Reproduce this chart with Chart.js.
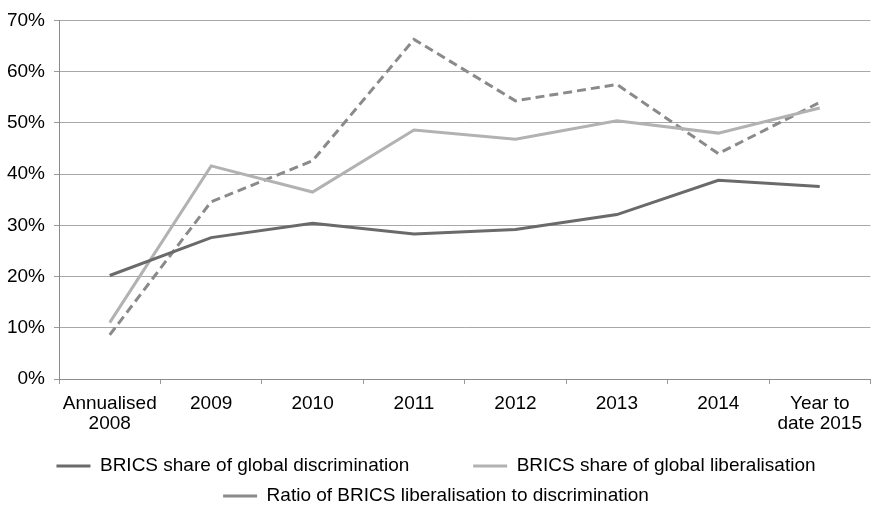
<!DOCTYPE html>
<html>
<head>
<meta charset="utf-8">
<script src="https://cdn.jsdelivr.net/npm/chart.js@4"></script>
<style>
  html, body { margin: 0; padding: 0; background: #fff; }
  #wrap { width: 872px; height: 507px; position: relative; }
</style>
</head>
<body>
<div id="wrap"><canvas id="bricsChart"></canvas></div>
<script>
// data
const categories = [
  ["Annualised", "2008"], "2009", "2010", "2011", "2012", "2013", "2014", ["Year to", "date 2015"]
];
const discrimination = [20.2, 27.6, 30.4, 28.3, 29.2, 32.1, 38.8, 37.6];
const liberalisation = [11.0, 41.6, 36.5, 48.6, 46.8, 50.4, 48.0, 52.9];
const ratio = [8.6, 34.6, 42.6, 66.3, 54.3, 57.5, 44.0, 54.0];
const yTicks = [0, 10, 20, 30, 40, 50, 60, 70];

const seriesNames = [
  "BRICS share of global discrimination",
  "BRICS share of global liberalisation",
  "Ratio of BRICS liberalisation to discrimination"
];

const fontFamily = "'Liberation Sans', Arial, sans-serif";
Chart.defaults.font.family = fontFamily;
Chart.defaults.color = "#000";

const ctx = document.getElementById("bricsChart").getContext("2d");
const bricsChart = new Chart(ctx, {
  type: "line",
  data: {
    labels: categories,
    datasets: [
      {
        label: seriesNames[0],
        data: discrimination,
        borderColor: "#6a6a6a",
        borderWidth: 3,
        pointRadius: 0,
        tension: 0
      },
      {
        label: seriesNames[1],
        data: liberalisation,
        borderColor: "#b2b2b2",
        borderWidth: 3,
        pointRadius: 0,
        tension: 0
      },
      {
        label: seriesNames[2],
        data: ratio,
        borderColor: "#8a8a8a",
        borderWidth: 3,
        borderDash: [9, 5],
        pointRadius: 0,
        tension: 0
      }
    ]
  },
  options: {
    responsive: true,
    maintainAspectRatio: false,
    animation: false,
    layout: {
      padding: { top: 16, left: 0, right: 0, bottom: -8.5 }
    },
    scales: {
      x: {
        offset: true,
        grid: {
          offset: true,
          drawOnChartArea: false,
          drawTicks: true,
          tickLength: 5,
          tickColor: "#9a9a9a"
        },
        border: { color: "#8c8c8c", width: 1 },
        ticks: {
          padding: 10,
          maxRotation: 0,
          autoSkip: false,
          font: { size: 19, lineHeight: 1.05 }
        },
        afterFit: (scale) => {
          scale.height = 66.5;
        }
      },
      y: {
        min: 0,
        max: 70,
        afterBuildTicks: (scale) => {
          scale.ticks = yTicks.map((v) => ({ value: v }));
        },
        afterFit: (scale) => {
          // lebar sumbu y biar garis sumbu di x=59
          scale.width = 59;
        },
        grid: {
          color: "#a8a8a8",
          lineWidth: 1,
          drawTicks: true,
          tickLength: 5,
          tickColor: "#9a9a9a"
        },
        border: { color: "#8c8c8c", width: 1 },
        ticks: {
          padding: 9,
          font: { size: 19, lineHeight: 1.2 },
          callback: (v) => v + "%"
        }
      }
    },
    plugins: {
      legend: {
        position: "bottom",
        labels: {
          usePointStyle: true,
          pointStyle: "line",
          pointStyleWidth: 34,
          padding: 11,
          font: { size: 19 },
          generateLabels: (chart) => {
            const items = Chart.defaults.plugins.legend.labels.generateLabels(chart);
            // jarak antar item baris pertama lebih lebar
            items[0].text = items[0].text + " ".repeat(10);
            return items;
          }
        }
      },
      tooltip: { enabled: false }
    }
  }
});
</script>
</body>
</html>
